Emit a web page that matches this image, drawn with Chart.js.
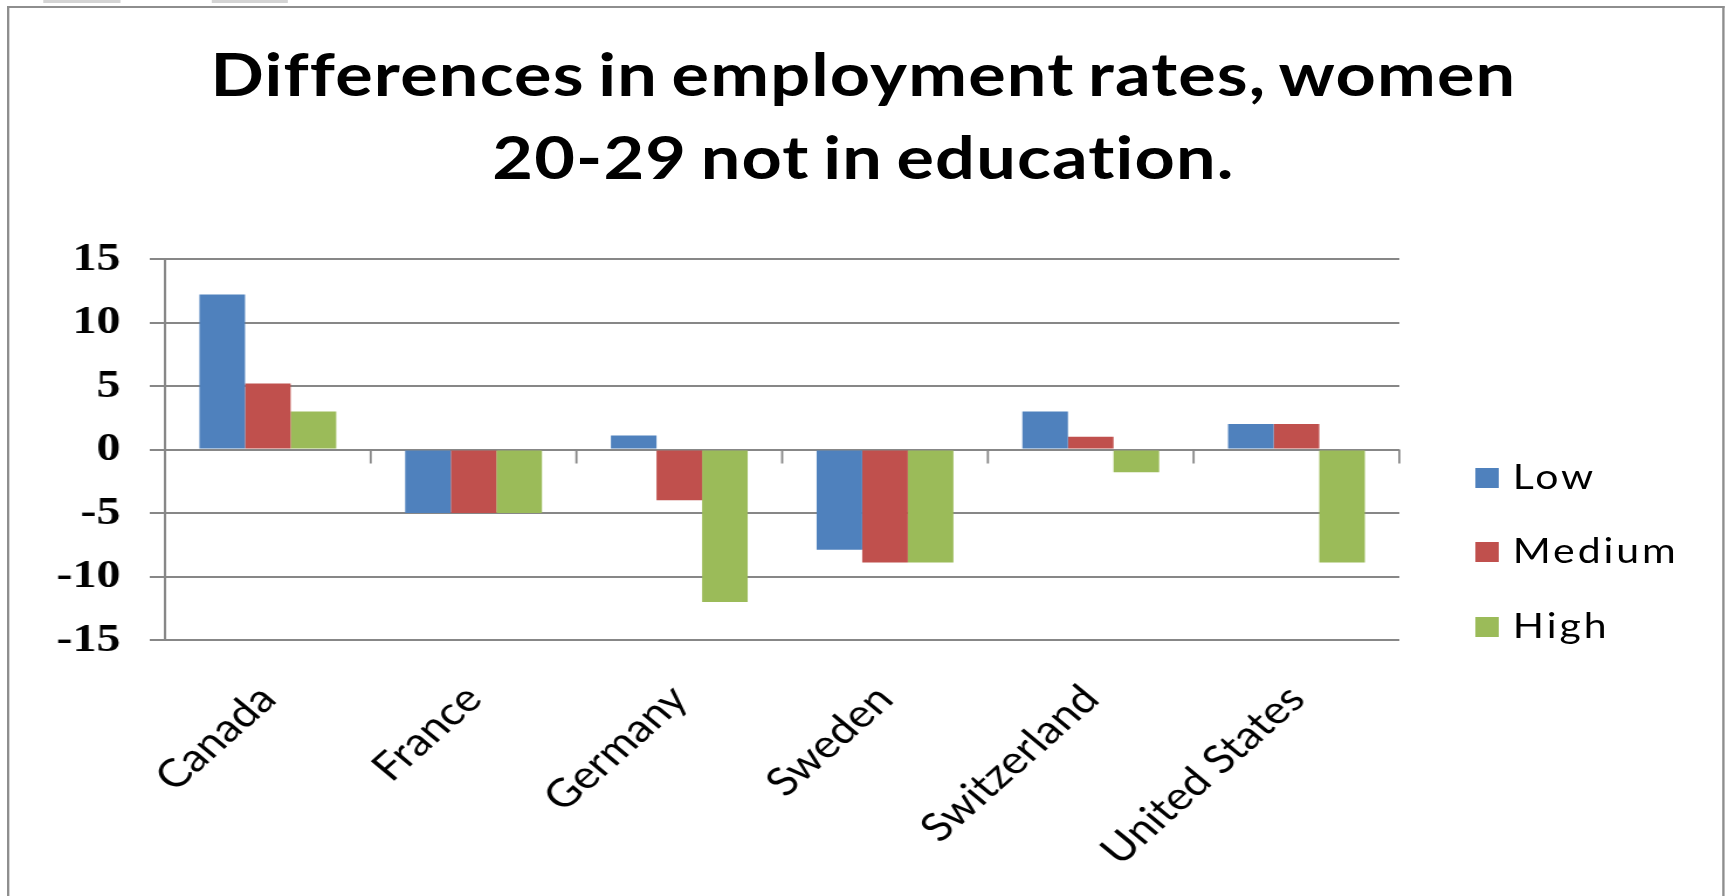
<!DOCTYPE html>
<html>
<head>
<meta charset="utf-8">
<title>Differences in employment rates, women 20-29 not in education.</title>
<script src="https://cdn.jsdelivr.net/npm/chart.js@4.4.1/dist/chart.umd.min.js"></script>
<style>
  html, body { margin: 0; padding: 0; background: #fff; overflow: hidden; }
  /* the source picture is a slightly widened screenshot, so the whole stage is stretched */
  #stage { position: absolute; left: 0; top: 0; width: 1476px; height: 896px; transform: scaleX(1.17); transform-origin: 0 0; }
  .tab { position: absolute; top: 0; height: 3px; background: #d4d4d4; }
  #frame { position: absolute; left: 6px; top: 6px; width: 1464px; height: 910px; border: 2px solid #8e8e8e; border-bottom: none; }
  #title { position: absolute; left: 0; top: 32px; width: 1476px; text-align: center; font: bold 60px/83px Lato, sans-serif; color: #000; word-spacing: -4px; letter-spacing: 1px; }
  .leg { position: absolute; left: 1261px; height: 40px; display: flex; align-items: center; }
  .leg span.box { width: 20px; height: 20px; margin-right: 12px; }
  .leg span.txt { font: 35px/1 Lato, sans-serif; color: #000; letter-spacing: 2.5px; margin-top: -6px; }
  #graph-wrap { position: absolute; left: 0; top: 0; width: 1476px; height: 896px; }
</style>
</head>
<body>
<div id="stage">
  <div class="tab" style="left:37px;width:66px"></div>
  <div class="tab" style="left:181px;width:65px"></div>
  <div id="frame"></div>
  <div id="title">Differences in employment rates, women<br>20-29 not in education.</div>
  <div id="legend"></div>
  <div id="graph-wrap"><canvas id="graph"></canvas></div>
</div>
<script>
const countries = ["Canada", "France", "Germany", "Sweden", "Switzerland", "United States"];
const low = [12.2, -5, 1.1, -7.9, 3, 2];
const medium = [5.2, -5, -4, -8.9, 1, 2];
const high = [3, -5, -12, -8.9, -1.8, -8.9];
const seriesNames = ["Low", "Medium", "High"];
const yTicks = [-15, -10, -5, 0, 5, 10, 15];

const colors = ["#4F81BD", "#C0504D", "#9BBB59"];
const gridColor = "#878787";

// legend (html, like the excel one sitting at the right)
const legendTops = [458, 532, 607];
seriesNames.forEach((name, i) => {
    const item = document.createElement("div");
    item.className = "leg";
    item.style.top = legendTops[i] + "px";
    item.innerHTML = '<span class="box" style="background:' + colors[i] + '"></span><span class="txt">' + name + '</span>';
    document.getElementById("legend").appendChild(item);
});

// little tick marks on the zero line, between the categories
const zeroTicks = {
    id: "zeroTicks",
    beforeDatasetsDraw(chart) {
        const xs = chart.scales.x, ys = chart.scales.y;
        const y0 = ys.getPixelForValue(0);
        const ctx = chart.ctx;
        ctx.save();
        ctx.strokeStyle = gridColor;
        ctx.lineWidth = 1.8;
        for (let i = 1; i <= countries.length; i++) {
            const bx = i < countries.length ? (xs.getPixelForValue(i - 1) + xs.getPixelForValue(i)) / 2 : xs.right;
            ctx.beginPath();
            ctx.moveTo(bx, y0);
            ctx.lineTo(bx, y0 + 14);
            ctx.stroke();
        }
        ctx.restore();
    }
};

new Chart("graph", {
    type: "bar",
    data: {
        labels: countries,
        datasets: [low, medium, high].map((vals, i) => ({
            label: seriesNames[i],
            data: vals,
            backgroundColor: colors[i],
            borderWidth: 0,
            categoryPercentage: 0.665,
            barPercentage: 1
        }))
    },
    options: {
        responsive: true,
        maintainAspectRatio: false,
        animation: false,
        layout: { padding: { top: 259, right: 280, bottom: 0, left: 0 } },
        plugins: {
            legend: { display: false },
            title: { display: false },
            tooltip: { enabled: false }
        },
        scales: {
            x: {
                grid: { display: false },
                border: { display: false },
                ticks: {
                    autoSkip: false,
                    minRotation: 46,
                    maxRotation: 46,
                    padding: 28,
                    color: "#000",
                    font: { family: "Lato", size: 39 }
                },
                afterFit(scale) { scale.height = 256; }
            },
            y: {
                min: yTicks[0],
                max: yTicks[yTicks.length - 1],
                ticks: {
                    stepSize: yTicks[1] - yTicks[0],
                    padding: 25,
                    color: "#000",
                    font: { family: "Liberation Serif", size: 41, weight: "bold" }
                },
                grid: { color: gridColor, lineWidth: 2, tickLength: 13 },
                border: { display: true, color: gridColor, width: 2 },
                afterFit(scale) { scale.width = 141; }
            }
        }
    },
    plugins: [zeroTicks]
});
</script>
</body>
</html>
